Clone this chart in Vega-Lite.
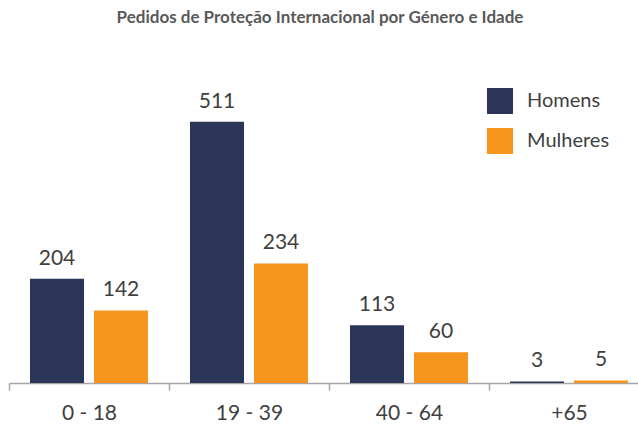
{
  "$schema": "https://vega.github.io/schema/vega-lite/v6.json",
  "autosize": "none",
  "width": 640,
  "height": 300,
  "padding": {"left": 9, "top": 83, "right": 0, "bottom": 41},
  "title": {
    "text": "Pedidos de Proteção Internacional por Género e Idade",
    "font": "Lato",
    "fontSize": 17,
    "fontWeight": "bold",
    "color": "#595959",
    "anchor": "middle",
    "frame": "group",
    "dx": -9,
    "offset": 56
  },
  "config": {
    "view": {"stroke": null},
    "font": "Lato"
  },
  "data": {
    "values": [
      {"idade": "0 - 18", "genero": "Homens", "valor": 204},
      {"idade": "0 - 18", "genero": "Mulheres", "valor": 142},
      {"idade": "19 - 39", "genero": "Homens", "valor": 511},
      {"idade": "19 - 39", "genero": "Mulheres", "valor": 234},
      {"idade": "40 - 64", "genero": "Homens", "valor": 113},
      {"idade": "40 - 64", "genero": "Mulheres", "valor": 60},
      {"idade": "+65", "genero": "Homens", "valor": 3},
      {"idade": "+65", "genero": "Mulheres", "valor": 5}
    ]
  },
  "encoding": {
    "x": {
      "field": "idade",
      "type": "nominal",
      "sort": ["0 - 18", "19 - 39", "40 - 64", "+65"],
      "scale": {"paddingInner": 0, "paddingOuter": 0},
      "axis": {
        "title": null,
        "labelAngle": 0,
        "labelFont": "Lato",
        "labelFontSize": 21,
        "labelColor": "#404040",
        "labelBaseline": "alphabetic",
        "labelPadding": 29,
        "domainColor": "#A6A6A6",
        "domainWidth": 1.5,
        "tickColor": "#A6A6A6",
        "tickWidth": 1.5,
        "tickSize": 7,
        "tickBand": "extent"
      }
    },
    "xOffset": {
      "field": "genero",
      "type": "nominal",
      "scale": {"paddingInner": 0.15625, "paddingOuter": 0.328}
    },
    "y": {
      "field": "valor",
      "type": "quantitative",
      "scale": {"domain": [0, 587], "nice": false},
      "axis": null
    }
  },
  "layer": [
    {
      "mark": {"type": "bar"},
      "encoding": {
        "color": {
          "field": "genero",
          "type": "nominal",
          "scale": {"domain": ["Homens", "Mulheres"], "range": ["#2B3558", "#F7941D"]},
          "legend": {
            "title": null,
            "orient": "none",
            "legendX": 478,
            "legendY": 5,
            "symbolType": "square",
            "symbolSize": 676,
            "symbolStrokeWidth": 0,
            "labelFont": "Lato",
            "labelFontSize": 20,
            "labelColor": "#404040",
            "labelOffset": 14,
            "rowPadding": 14
          }
        }
      }
    },
    {
      "mark": {"type": "text", "baseline": "alphabetic", "dy": -14, "fontSize": 21, "color": "#404040", "font": "Lato"},
      "encoding": {"text": {"field": "valor", "type": "quantitative"}}
    }
  ]
}
